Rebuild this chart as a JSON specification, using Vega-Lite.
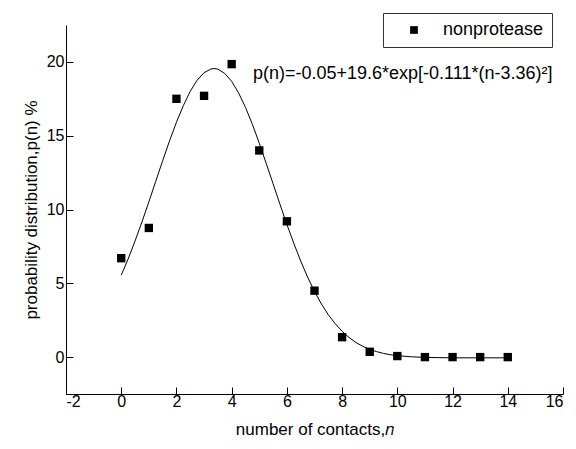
{
  "$schema": "https://vega.github.io/schema/vega-lite/v6.json",
  "width": 497,
  "height": 369,
  "autosize": {"type": "none"},
  "padding": {"left": 66, "top": 25, "right": 13, "bottom": 55},
  "background": "white",
  "config": {
    "view": {"stroke": null},
    "font": "Liberation Sans",
    "axis": {
      "grid": false,
      "domainColor": "black",
      "domainWidth": 1,
      "tickColor": "black",
      "tickWidth": 1,
      "labelColor": "black",
      "labelFont": "Liberation Sans",
      "labelFontSize": 16,
      "labelOverlap": false,
      "titleColor": "black",
      "titleFont": "Liberation Sans",
      "titleFontSize": 17,
      "titleFontWeight": "normal"
    }
  },
  "datasets": {
    "observed": [
      {"n": 0, "p": 6.7, "series": "nonprotease"},
      {"n": 1, "p": 8.75, "series": "nonprotease"},
      {"n": 2, "p": 17.5, "series": "nonprotease"},
      {"n": 3, "p": 17.7, "series": "nonprotease"},
      {"n": 4, "p": 19.85, "series": "nonprotease"},
      {"n": 5, "p": 14.0, "series": "nonprotease"},
      {"n": 6, "p": 9.2, "series": "nonprotease"},
      {"n": 7, "p": 4.5, "series": "nonprotease"},
      {"n": 8, "p": 1.35, "series": "nonprotease"},
      {"n": 9, "p": 0.36, "series": "nonprotease"},
      {"n": 10, "p": 0.07, "series": "nonprotease"},
      {"n": 11, "p": 0.0, "series": "nonprotease"},
      {"n": 12, "p": 0.0, "series": "nonprotease"},
      {"n": 13, "p": 0.0, "series": "nonprotease"},
      {"n": 14, "p": 0.0, "series": "nonprotease"}
    ],
    "fit": [
      {"n": 0, "p": 5.55},
      {"n": 0.25, "p": 6.65},
      {"n": 0.5, "p": 7.86},
      {"n": 0.75, "p": 9.15},
      {"n": 1, "p": 10.51},
      {"n": 1.25, "p": 11.91},
      {"n": 1.5, "p": 13.3},
      {"n": 1.75, "p": 14.65},
      {"n": 2, "p": 15.91},
      {"n": 2.25, "p": 17.04},
      {"n": 2.5, "p": 18.01},
      {"n": 2.75, "p": 18.76},
      {"n": 3, "p": 19.27},
      {"n": 3.25, "p": 19.52},
      {"n": 3.36, "p": 19.55},
      {"n": 3.5, "p": 19.51},
      {"n": 3.75, "p": 19.22},
      {"n": 4, "p": 18.68},
      {"n": 4.25, "p": 17.9},
      {"n": 4.5, "p": 16.92},
      {"n": 4.75, "p": 15.77},
      {"n": 5, "p": 14.49},
      {"n": 5.25, "p": 13.13},
      {"n": 5.5, "p": 11.74},
      {"n": 5.75, "p": 10.35},
      {"n": 6, "p": 8.99},
      {"n": 6.25, "p": 7.71},
      {"n": 6.5, "p": 6.51},
      {"n": 6.75, "p": 5.42},
      {"n": 7, "p": 4.45},
      {"n": 7.25, "p": 3.6},
      {"n": 7.5, "p": 2.87},
      {"n": 7.75, "p": 2.26},
      {"n": 8, "p": 1.75},
      {"n": 8.25, "p": 1.33},
      {"n": 8.5, "p": 0.99},
      {"n": 8.75, "p": 0.73},
      {"n": 9, "p": 0.52},
      {"n": 9.25, "p": 0.37},
      {"n": 9.5, "p": 0.25},
      {"n": 9.75, "p": 0.16},
      {"n": 10, "p": 0.1},
      {"n": 10.5, "p": 0.02},
      {"n": 11, "p": -0.02},
      {"n": 12, "p": -0.05},
      {"n": 13, "p": -0.05},
      {"n": 14, "p": -0.05}
    ]
  },
  "layer": [
    {
      "data": {"name": "fit"},
      "mark": {"type": "line", "color": "black", "strokeWidth": 1},
      "encoding": {
        "x": {
          "field": "n",
          "type": "quantitative",
          "scale": {"domain": [-2, 16], "nice": false, "zero": false},
          "axis": {
            "title": "number of contacts,𝑛",
            "values": [-2, -1, 0, 1, 2, 3, 4, 5, 6, 7, 8, 9, 10, 11, 12, 13, 14, 15, 16],
            "labelExpr": "datum.value % 2 === 0 ? '' + datum.value : ''",
            "tickSize": {"condition": {"test": "datum.value % 2 === 0", "value": -7}, "value": -4},
            "labelPadding": 6,
            "titlePadding": 12
          }
        },
        "y": {
          "field": "p",
          "type": "quantitative",
          "scale": {"domain": [-2.5, 22.5], "nice": false, "zero": false},
          "axis": {
            "title": "probability distribution,p(n) %",
            "values": [0, 5, 10, 15, 20],
            "format": "d",
            "tickSize": -7,
            "labelPadding": 9,
            "titlePadding": 6
          }
        }
      }
    },
    {
      "data": {"name": "observed"},
      "mark": {"type": "square", "filled": true, "size": 70, "opacity": 1},
      "encoding": {
        "x": {"field": "n", "type": "quantitative"},
        "y": {"field": "p", "type": "quantitative"},
        "color": {
          "field": "series",
          "type": "nominal",
          "scale": {"range": ["black"]},
          "legend": {
            "title": null,
            "orient": "none",
            "legendX": 317,
            "legendY": -12,
            "strokeColor": "#333333",
            "fillColor": "white",
            "padding": 8,
            "symbolType": "square",
            "symbolSize": 60,
            "symbolOffset": 14,
            "symbolStrokeWidth": 0,
            "labelFont": "Liberation Sans",
            "labelFontSize": 18,
            "labelColor": "black",
            "labelOffset": 20
          }
        }
      }
    },
    {
      "data": {"values": [{}]},
      "mark": {"type": "text", "align": "left", "baseline": "middle", "font": "Liberation Sans", "fontSize": 18, "color": "black"},
      "encoding": {
        "x": {"datum": 4.77},
        "y": {"datum": 19.17},
        "text": {"value": "p(n)=-0.05+19.6*exp[-0.111*(n-3.36)²]"}
      }
    }
  ]
}
